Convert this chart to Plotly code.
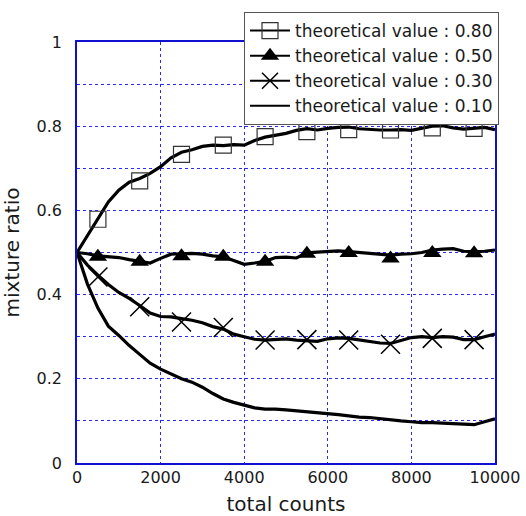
import plotly.graph_objects as go

# x positions of the sampled curves (total counts)
counts = list(range(0, 10001, 250))

ratio_080 = [0.500, 0.540, 0.578, 0.620, 0.648, 0.667, 0.676, 0.688, 0.704, 0.725,
             0.738, 0.744, 0.752, 0.755, 0.754, 0.756, 0.755, 0.766, 0.774, 0.778,
             0.783, 0.790, 0.794, 0.791, 0.795, 0.797, 0.798, 0.794, 0.792, 0.791,
             0.791, 0.792, 0.790, 0.795, 0.800, 0.801, 0.796, 0.793, 0.795, 0.797, 0.792]
ratio_050 = [0.500, 0.497, 0.492, 0.490, 0.488, 0.483, 0.479, 0.475, 0.486, 0.496,
             0.497, 0.498, 0.496, 0.492, 0.490, 0.480, 0.472, 0.475, 0.479, 0.488,
             0.489, 0.487, 0.499, 0.501, 0.502, 0.504, 0.502, 0.500, 0.498, 0.495,
             0.494, 0.496, 0.497, 0.500, 0.506, 0.508, 0.509, 0.503, 0.502, 0.503, 0.506]
ratio_030 = [0.500, 0.470, 0.446, 0.424, 0.405, 0.391, 0.374, 0.356, 0.348, 0.347,
             0.343, 0.339, 0.333, 0.324, 0.318, 0.306, 0.300, 0.294, 0.292, 0.294,
             0.295, 0.292, 0.291, 0.289, 0.295, 0.297, 0.296, 0.292, 0.288, 0.285,
             0.284, 0.292, 0.298, 0.300, 0.298, 0.300, 0.299, 0.293, 0.293, 0.300, 0.306]
ratio_010 = [0.500, 0.425, 0.368, 0.325, 0.303, 0.279, 0.258, 0.237, 0.223, 0.211,
             0.200, 0.192, 0.180, 0.165, 0.152, 0.144, 0.137, 0.131, 0.128, 0.128,
             0.126, 0.124, 0.122, 0.120, 0.117, 0.115, 0.112, 0.109, 0.108, 0.105,
             0.102, 0.100, 0.098, 0.096, 0.096, 0.095, 0.094, 0.092, 0.091, 0.098, 0.105]

# marker positions
marker_counts = [500, 1500, 2500, 3500, 4500, 5500, 6500, 7500, 8500, 9500]
markers_080 = [0.579, 0.670, 0.733, 0.755, 0.775, 0.787, 0.792, 0.791, 0.796, 0.795]
markers_050 = [0.490, 0.478, 0.491, 0.490, 0.478, 0.497, 0.499, 0.486, 0.499, 0.498]
markers_030 = [0.442, 0.371, 0.335, 0.322, 0.292, 0.293, 0.292, 0.282, 0.296, 0.293]

legend_labels = ["theoretical value : 0.80", "theoretical value : 0.50",
                 "theoretical value : 0.30", "theoretical value : 0.10"]

x_ticks = [0, 2000, 4000, 6000, 8000, 10000]
y_ticks = [0, 0.2, 0.4, 0.6, 0.8, 1]
y_tick_text = ["0", "0.2", "0.4", "0.6", "0.8", "1"]

FONT = "DejaVu Sans, Verdana, sans-serif"
LW = 3.2
GRID = "#2a2af0"
fig = go.Figure()

series = [ratio_080, ratio_050, ratio_030, ratio_010]
marker_series = [markers_080, markers_050, markers_030, None]
marker_styles = [
    dict(symbol="square-open", size=16, color="#333333", line=dict(width=1.2, color="#333333")),
    dict(symbol="triangle-up", size=16, color="black", line=dict(width=0)),
    dict(symbol="x-thin-open", size=19, color="black", line=dict(width=1.5, color="black")),
    None,
]

for vals, mvals, ms in zip(series, marker_series, marker_styles):
    fig.add_trace(go.Scatter(x=counts, y=vals, mode="lines",
                             line=dict(color="black", width=LW),
                             showlegend=False, hoverinfo="skip"))
    if mvals is not None:
        fig.add_trace(go.Scatter(x=marker_counts, y=mvals, mode="markers",
                                 marker=ms, showlegend=False, hoverinfo="skip"))

# legend entries
for label, ms in zip(legend_labels, marker_styles):
    if ms is None:
        fig.add_trace(go.Scatter(x=[None], y=[None], mode="lines", name=label,
                                 line=dict(color="black", width=2)))
    else:
        fig.add_trace(go.Scatter(x=[None], y=[None], mode="lines+markers", name=label,
                                 line=dict(color="black", width=2), marker=ms))

fig.update_layout(
    width=526, height=516,
    margin=dict(l=77, r=31, t=42, b=53),
    paper_bgcolor="white", plot_bgcolor="white",
    font=dict(family=FONT, size=16, color="#1a1a1a"),
    showlegend=True,
    legend=dict(x=1.0096, y=1.0713, xanchor="right", yanchor="top",
                bgcolor="white", bordercolor="#555555", borderwidth=1,
                font=dict(family=FONT, size=17, color="#1a1a1a"), tracegroupgap=0,
                itemwidth=40),
)
fig.update_xaxes(range=[0, 10000], tickvals=x_ticks, ticktext=[str(v) for v in x_ticks],
                 showgrid=True, gridcolor=GRID, griddash="dot", gridwidth=1,
                 showline=True, linecolor="#1010d0", linewidth=1.5, mirror=True,
                 ticks="", zeroline=False, automargin=False, ticklabelstandoff=-1,
                 title=dict(text="total counts", font=dict(size=20), standoff=14))
fig.update_yaxes(range=[0, 1], tickvals=y_ticks, ticktext=y_tick_text,
                 showgrid=True, gridcolor=GRID, griddash="dot", gridwidth=1,
                 minor=dict(dtick=0.1, showgrid=True, gridcolor=GRID, griddash="dot", gridwidth=1),
                 showline=True, linecolor="#1010d0", linewidth=1.5, mirror=True,
                 ticks="", zeroline=False, automargin=False, ticklabelstandoff=10,
                 title=dict(text="mixture ratio", font=dict(size=20), standoff=15))

# remove the browser's default 8px body margin so the figure sits at the page corner
fig.write_html("out.html", config={"displayModeBar": False},
               post_script="document.body.style.margin='0px';")
